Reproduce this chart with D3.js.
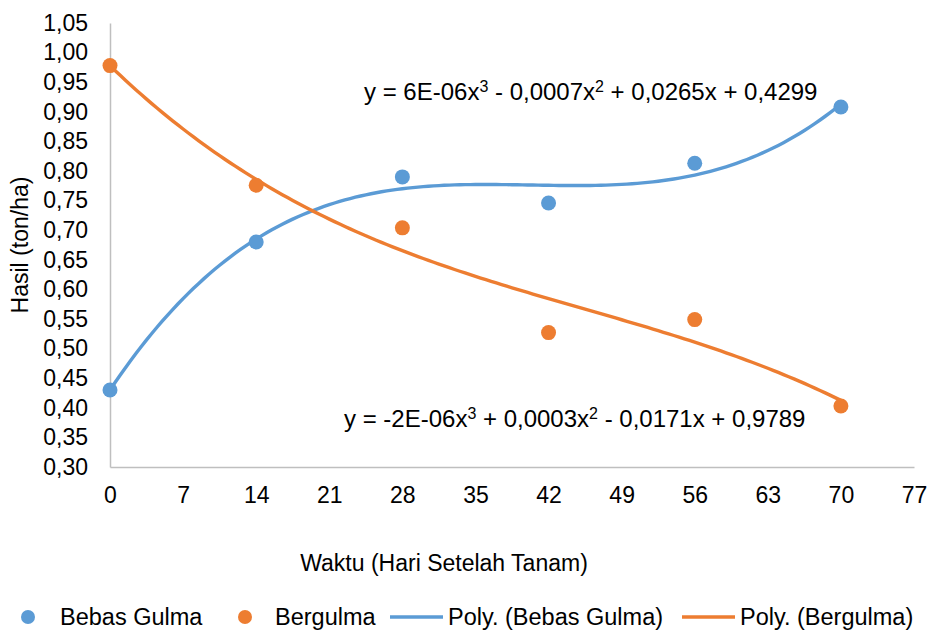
<!DOCTYPE html>
<html>
<head>
<meta charset="utf-8">
<script src="https://cdn.jsdelivr.net/npm/d3@7"></script>
<style>
  html, body { margin: 0; padding: 0; background: #fff; }
  svg text { font-family: "Liberation Sans", Arial, sans-serif; fill: #000; }
</style>
</head>
<body>
<div id="chart"></div>
<script>
// data
const days = [0, 14, 28, 42, 56, 70];
const bebasGulma = [0.430, 0.680, 0.790, 0.746, 0.813, 0.908];
const bergulma = [0.978, 0.776, 0.704, 0.527, 0.549, 0.403];
const xTicks = [0, 7, 14, 21, 28, 35, 42, 49, 56, 63, 70, 77];
const yTicks = d3.range(0.30, 1.0501, 0.05);
const seriesNames = ["Bebas Gulma", "Bergulma"];
const trendNames = ["Poly. (Bebas Gulma)", "Poly. (Bergulma)"];

const colors = { blue: "#5b9bd5", orange: "#ed7d31" };

const width = 929, height = 632;
const margin = { left: 110, right: 15, top: 23, bottom: 165 };
const fontSize = 23;

const svg = d3.select("#chart").append("svg")
  .attr("width", width)
  .attr("height", height);

const x = d3.scaleLinear().domain([0, 77]).range([margin.left, width - margin.right]);
const y = d3.scaleLinear().domain([0.30, 1.05]).range([height - margin.bottom, margin.top]);

// axes (no tick marks, grey lines)
const xAxis = svg.append("g")
  .attr("transform", `translate(0,${y(0.30)})`)
  .call(d3.axisBottom(x).tickValues(xTicks).tickSize(0).tickPadding(20).tickFormat(d3.format("d")));
const yAxis = svg.append("g")
  .attr("transform", `translate(${x(0)},0)`)
  .call(d3.axisLeft(y).tickValues(yTicks).tickSize(0).tickPadding(22)
    .tickFormat(d => d.toFixed(2).replace(".", ",")));

[xAxis, yAxis].forEach(g => {
  g.select(".domain").attr("stroke", "#bfbfbf").attr("stroke-width", 1.5);
  g.selectAll("text").style("font-size", `${fontSize}px`).attr("fill", "#000")
    .style("font-family", '"Liberation Sans", Arial, sans-serif');
});

// axis titles
svg.append("text")
  .attr("x", 444).attr("y", 571)
  .attr("text-anchor", "middle")
  .style("font-size", `${fontSize}px`)
  .text("Waktu (Hari Setelah Tanam)");

svg.append("text")
  .attr("transform", `translate(28,${(y(0.30) + y(1.05)) / 2}) rotate(-90)`)
  .attr("text-anchor", "middle")
  .style("font-size", `${fontSize}px`)
  .text("Hasil (ton/ha)");

// least squares cubic fit (same as the spreadsheet trendline)
const polyFit = (xs, ys, deg) => {
  const n = deg + 1;
  const A = d3.range(n).map(() => new Array(n + 1).fill(0));
  xs.forEach((xv, k) => {
    for (let i = 0; i < n; i++) {
      for (let j = 0; j < n; j++) A[i][j] += Math.pow(xv, i + j);
      A[i][n] += ys[k] * Math.pow(xv, i);
    }
  });
  for (let c = 0; c < n; c++) {
    let p = c;
    for (let r = c + 1; r < n; r++) if (Math.abs(A[r][c]) > Math.abs(A[p][c])) p = r;
    [A[c], A[p]] = [A[p], A[c]];
    for (let r = 0; r < n; r++) {
      if (r === c) continue;
      const f = A[r][c] / A[c][c];
      for (let k = c; k <= n; k++) A[r][k] -= f * A[c][k];
    }
  }
  return d3.range(n).map(i => A[i][n] / A[i][i]);
};

const polyVal = (coef, xv) => coef.reduce((s, c, i) => s + c * Math.pow(xv, i), 0);

const line = d3.line().x(d => x(d[0])).y(d => y(d[1]));

const series = [
  { values: bebasGulma, color: colors.blue },
  { values: bergulma, color: colors.orange },
];

series.forEach(s => {
  const coef = polyFit(days, s.values, 3);
  const curve = d3.range(0, 70.01, 0.5).map(t => [t, polyVal(coef, t)]);
  svg.append("path")
    .datum(curve)
    .attr("d", line)
    .attr("fill", "none")
    .attr("stroke", s.color)
    .attr("stroke-width", 3.4);
});

series.forEach(s => {
  svg.append("g").selectAll("circle")
    .data(days.map((d, i) => [d, s.values[i]]))
    .enter().append("circle")
    .attr("cx", d => x(d[0]))
    .attr("cy", d => y(d[1]))
    .attr("r", 7.5)
    .attr("fill", s.color);
});

// equations
const eqs = [
  { x: 364, y: 100, parts: [["y = 6E-06x", 0], ["3", 1], [" - 0,0007x", 0], ["2", 1], [" + 0,0265x + 0,4299", 0]] },
  { x: 344, y: 427, parts: [["y = -2E-06x", 0], ["3", 1], [" + 0,0003x", 0], ["2", 1], [" - 0,0171x + 0,9789", 0]] },
];
eqs.forEach(eq => {
  const t = svg.append("text").attr("x", eq.x).attr("y", eq.y).style("font-size", "24px");
  eq.parts.forEach(([txt, sup]) => {
    const ts = t.append("tspan").text(txt);
    if (sup) ts.attr("baseline-shift", "super").style("font-size", "16px");
  });
});

// legend
const legendY = 617;
const legend = svg.append("g");
const legendItems = [
  { type: "dot", color: colors.blue, x: 28, tx: 60, label: seriesNames[0] },
  { type: "dot", color: colors.orange, x: 245, tx: 275, label: seriesNames[1] },
  { type: "line", color: colors.blue, x: 390, x2: 443, tx: 448, label: trendNames[0] },
  { type: "line", color: colors.orange, x: 682, x2: 735, tx: 740, label: trendNames[1] },
];
legendItems.forEach(d => {
  if (d.type === "dot") {
    legend.append("circle").attr("cx", d.x).attr("cy", legendY).attr("r", 7).attr("fill", d.color);
  } else {
    legend.append("line").attr("x1", d.x).attr("x2", d.x2).attr("y1", legendY).attr("y2", legendY)
      .attr("stroke", d.color).attr("stroke-width", 3.4);
  }
  legend.append("text").attr("x", d.tx).attr("y", legendY + 8)
    .style("font-size", "23.5px").text(d.label);
});
</script>
</body>
</html>
